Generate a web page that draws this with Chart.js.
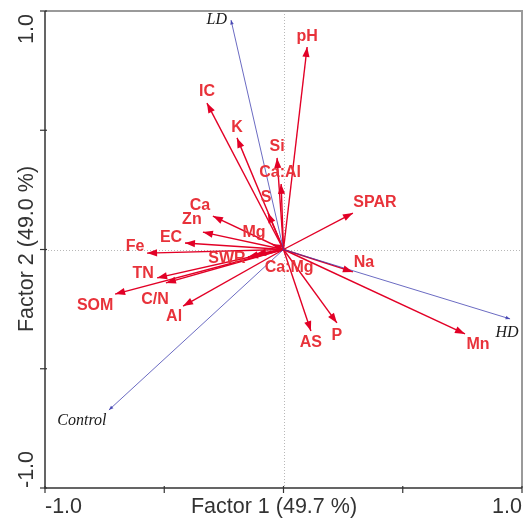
<!DOCTYPE html>
<html>
<head>
<meta charset="utf-8">
<script src="https://cdn.jsdelivr.net/npm/chart.js@4"></script>
<style>
html,body{margin:0;padding:0;background:#fff;}
#wrap{width:523px;height:521px;}
</style>
</head>
<body>
<div id="wrap"><canvas id="c" width="523" height="521"></canvas></div>
<script>
// Variable loadings (red arrows)
const variables = ["pH","IC","K","Si","Ca:Al","S","SPAR","Ca","Zn","EC","Fe","Mg","SWR","Ca:Mg","TN","C/N","SOM","Al","Na","Mn","P","AS"];
const factor1   = [0.099,-0.321,-0.195,-0.027,-0.010,-0.065,0.291,-0.296,-0.338,-0.413,-0.572,-0.048,-0.149,-0.115,-0.530,-0.493,-0.706,-0.421,0.291,0.761,0.224,0.115];
const factor2   = [0.849,0.614,0.468,0.384,0.275,0.153,0.153,0.140,0.073,0.027,-0.015,0.023,-0.031,-0.019,-0.119,-0.140,-0.187,-0.237,-0.094,-0.354,-0.308,-0.342];
// Treatment vectors (blue arrows)
const treatments  = ["LD","HD","Control"];
const treatF1     = [-0.220,0.950,-0.732];
const treatF2     = [0.962,-0.291,-0.673];
// Axis
const axisTicks = [-1,-0.5,0,0.5,1];
const axisLabels = ["-1.0","1.0"];
const xTitle = "Factor 1 (49.7 %)";
const yTitle = "Factor 2 (49.0 %)";

// Label offsets (pixels, relative to arrow tip) - styling only
const labelOffsets = {
  "pH":[0,-10],"IC":[0,-11],"K":[0,-10],"Si":[0,-11],"Ca:Al":[-1,-11],"S":[-2,-15],
  "SPAR":[22,-10],"Ca":[-13,-11],"Zn":[-11,-12],"EC":[-14,-5],"Fe":[-12,-6],"Mg":[-18,-11],
  "SWR":[-21,2],"Ca:Mg":[33,14],"TN":[-14,-4],"C/N":[-11,17],"SOM":[-20,11],"Al":[-9,11],
  "Na":[11,-9],"Mn":[13,11],"P":[0,13],"AS":[0,12],
  "LD":[-4,0,"right"],"HD":[-3,14,"center"],"Control":[-27,11,"center"]
};

const RED = "rgb(226,0,38)";
const RED_TXT = "rgb(232,50,58)";
const BLUE = "rgba(60,60,175,0.85)";

const datasets = [];
treatments.forEach((t,i)=>{
  datasets.push({label:t, kind:'treat', data:[{x:0,y:0},{x:treatF1[i],y:treatF2[i]}],
    showLine:true, borderColor:BLUE, borderWidth:0.9, pointRadius:0});
});
variables.forEach((v,i)=>{
  datasets.push({label:v, kind:'var', data:[{x:0,y:0},{x:factor1[i],y:factor2[i]}],
    showLine:true, borderColor:RED, borderWidth:1.4, pointRadius:0});
});

const biplot = {
  id:'biplot',
  beforeDatasetsDraw(chart){
    const ctx = chart.ctx, ca = chart.chartArea;
    const xs = chart.scales.x, ys = chart.scales.y;
    ctx.save();
    ctx.strokeStyle = "#b8b8b8"; ctx.lineWidth = 1; ctx.setLineDash([1,2]);
    const x0 = Math.round(xs.getPixelForValue(0))+0.5, y0 = Math.round(ys.getPixelForValue(0))+0.5;
    ctx.beginPath(); ctx.moveTo(x0,ca.top); ctx.lineTo(x0,ca.bottom); ctx.stroke();
    ctx.beginPath(); ctx.moveTo(ca.left,y0); ctx.lineTo(ca.right,y0); ctx.stroke();
    ctx.setLineDash([]);
    ctx.restore();
  },
  afterDatasetsDraw(chart){
    const ctx = chart.ctx;
    ctx.save();
    chart.data.datasets.forEach((ds,di)=>{
      const meta = chart.getDatasetMeta(di);
      const p0 = meta.data[0], p1 = meta.data[1];
      const ang = Math.atan2(p1.y-p0.y, p1.x-p0.x);
      const isVar = ds.kind==='var';
      const L = isVar?10:4.5, W = isVar?3.6:1.8;
      ctx.fillStyle = isVar?RED:BLUE;
      ctx.beginPath();
      ctx.moveTo(p1.x,p1.y);
      ctx.lineTo(p1.x-L*Math.cos(ang)+W*Math.sin(ang), p1.y-L*Math.sin(ang)-W*Math.cos(ang));
      ctx.lineTo(p1.x-L*Math.cos(ang)-W*Math.sin(ang), p1.y-L*Math.sin(ang)+W*Math.cos(ang));
      ctx.closePath(); ctx.fill();
      const off = labelOffsets[ds.label]||[0,0];
      ctx.textBaseline='middle';
      if(isVar){
        ctx.font = "bold 16px 'Liberation Sans', Arial, sans-serif";
        ctx.fillStyle = RED_TXT; ctx.textAlign = 'center';
      } else {
        ctx.font = "italic 16px 'Liberation Serif', 'Times New Roman', serif";
        ctx.fillStyle = "#1a1a1a"; ctx.textAlign = off[2]||'center';
      }
      ctx.fillText(ds.label, p1.x+off[0], p1.y+off[1]);
    });
    ctx.restore();
  },
  afterDraw(chart){
    const ctx = chart.ctx, ca = chart.chartArea;
    const xs = chart.scales.x, ys = chart.scales.y;
    ctx.save();
    ctx.strokeStyle = "#9a9a9a"; ctx.lineWidth = 2;
    ctx.beginPath(); ctx.moveTo(ca.left,ca.top); ctx.lineTo(ca.right,ca.top); ctx.lineTo(ca.right,ca.bottom); ctx.stroke();
    ctx.strokeStyle = "#333"; ctx.lineWidth = 1.5;
    ctx.beginPath(); ctx.moveTo(ca.left,ca.top); ctx.lineTo(ca.left,ca.bottom); ctx.lineTo(ca.right,ca.bottom); ctx.stroke();
    ctx.lineWidth = 1.2;
    axisTicks.forEach(t=>{
      const px = xs.getPixelForValue(t), py = ys.getPixelForValue(t);
      ctx.beginPath(); ctx.moveTo(px,ca.bottom-2); ctx.lineTo(px,ca.bottom+5); ctx.stroke();
      ctx.beginPath(); ctx.moveTo(ca.left-5,py); ctx.lineTo(ca.left+2,py); ctx.stroke();
    });
    ctx.fillStyle = "#333";
    ctx.font = "21.5px 'Liberation Sans', Arial, sans-serif";
    ctx.textBaseline = 'middle';
    const ly = 507;
    ctx.textAlign='left'; ctx.fillText(axisLabels[0], xs.getPixelForValue(-1), ly);
    ctx.textAlign='right'; ctx.fillText(axisLabels[1], xs.getPixelForValue(1), ly);
    ctx.textAlign='center'; ctx.fillText(xTitle, 274, ly);
    ctx.save();
    ctx.translate(27, 0);
    ctx.rotate(-Math.PI/2);
    ctx.textAlign='left'; ctx.fillText(axisLabels[0], -ys.getPixelForValue(-1), 0);
    ctx.textAlign='right'; ctx.fillText(axisLabels[1], -(ys.getPixelForValue(1)+3), 0);
    ctx.textAlign='center'; ctx.fillText(yTitle, -249, 0);
    ctx.restore();
    ctx.restore();
  }
};

new Chart(document.getElementById('c'), {
  type:'scatter',
  data:{datasets},
  options:{
    responsive:false, animation:false,
    layout:{padding:{left:45,right:1,top:11,bottom:33}},
    plugins:{legend:{display:false}, tooltip:{enabled:false}},
    scales:{
      x:{type:'linear', min:-1, max:1, display:false},
      y:{type:'linear', min:-1, max:1, display:false}
    }
  },
  plugins:[biplot]
});
</script>
</body>
</html>
